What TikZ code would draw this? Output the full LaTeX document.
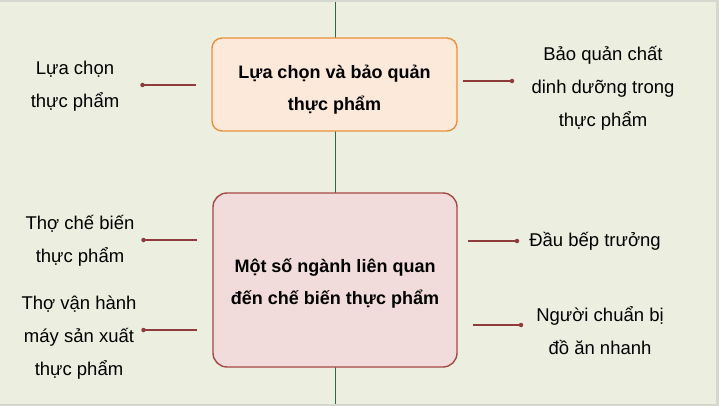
\documentclass[tikz,border=0pt]{standalone}
\usepackage{fontspec}
\setmainfont{Liberation Sans}
\definecolor{bgc}{HTML}{ECEFDF}
\definecolor{framec}{HTML}{D6D8D0}
\definecolor{axisc}{HTML}{2A6A4C}
\definecolor{linkc}{HTML}{8E3B3B}
\definecolor{topfill}{HTML}{FDE9DA}
\definecolor{topdraw}{HTML}{E8913C}
\definecolor{botfill}{HTML}{F2DCDB}
\definecolor{botdraw}{HTML}{A44848}
\tikzset{
  lbl/.style={align=center,inner sep=0pt,font=\fontsize{18.5}{33}\selectfont,text=black},
  boxlbl/.style={align=center,inner sep=0pt,font=\fontsize{18}{32}\selectfont\bfseries,text=black},
  link/.style={draw=linkc,line width=1.4pt},
  dotc/.style={circle,fill=linkc,inner sep=0pt,minimum size=4.5pt},
}
\begin{document}
\begin{tikzpicture}[x=1pt,y=-1pt]
\useasboundingbox (0,0) rectangle (719,406);
\fill[framec] (0,0) rectangle (719,406);
\fill[bgc] (0,2) rectangle (716,404);
% vertical axis
\coordinate (axtop) at (335.5,2);
\coordinate (axbot) at (335.5,404);
\draw[axisc,line width=1.3pt] (axtop) -- (axbot);
% boxes
\filldraw[fill=topfill,draw=topdraw,line width=1.4pt,rounded corners=10pt] (212,38) rectangle (457,131);
\node[boxlbl] (tbox) at (334.5,90) {Lựa chọn và bảo quản\\thực phẩm};
\filldraw[fill=botfill,draw=botdraw,line width=1.4pt,rounded corners=14pt] (213,193) rectangle (457,367);
\node[boxlbl] (bbox) at (335,283.5) {Một số ngành liên quan\\đến chế biến thực phẩm};
% side labels
\node[lbl] (l1) at (75,86) {Lựa chọn\\thực phẩm};
\node[lbl] (r1) at (603,88) {Bảo quản chất\\dinh dưỡng trong\\thực phẩm};
\node[lbl] (l2) at (80,241) {Thợ chế biến\\thực phẩm};
\node[lbl] (l3) at (79,338) {Thợ vận hành\\máy sản xuất\\thực phẩm};
\node[lbl] (r2) at (595,241.5) {Đầu bếp trưởng};
\node[lbl] (r3) at (600,331) {Người chuẩn bị\\đồ ăn nhanh};
% connectors
\coordinate (c1a) at (196,85);  \node[dotc] (c1b) at (142.5,85) {};
\coordinate (c2a) at (463,81);  \node[dotc] (c2b) at (512,81) {};
\coordinate (c3a) at (197,240); \node[dotc] (c3b) at (143.5,240) {};
\coordinate (c4a) at (197,330); \node[dotc] (c4b) at (143.5,330) {};
\coordinate (c5a) at (468,241); \node[dotc] (c5b) at (517,241) {};
\coordinate (c6a) at (473,325); \node[dotc] (c6b) at (521,325) {};
\draw[link] (c1a) -- (c1b.center);
\draw[link] (c2a) -- (c2b.center);
\draw[link] (c3a) -- (c3b.center);
\draw[link] (c4a) -- (c4b.center);
\draw[link] (c5a) -- (c5b.center);
\draw[link] (c6a) -- (c6b.center);
\end{tikzpicture}
\end{document}
